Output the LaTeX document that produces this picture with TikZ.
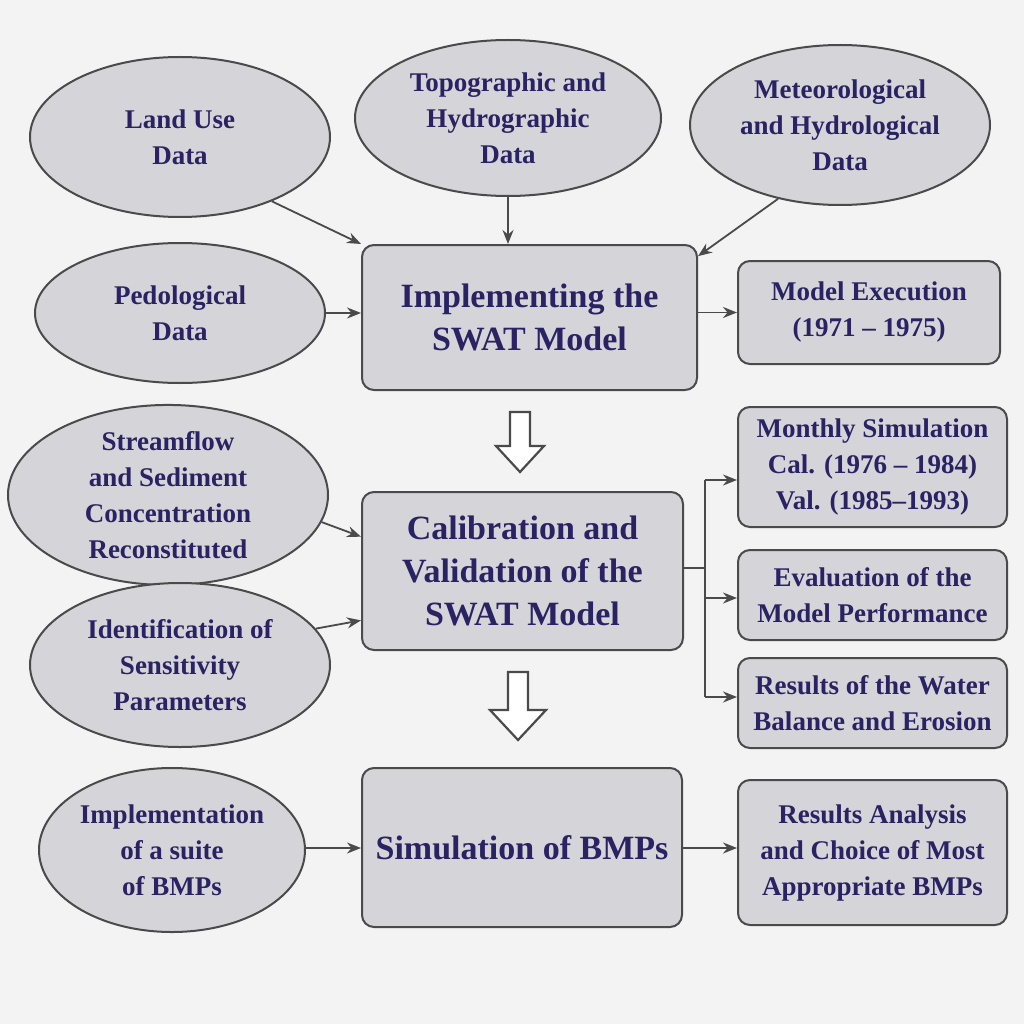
\documentclass[tikz,border=0pt]{standalone}
\usepackage{fontspec}
\setmainfont{Liberation Serif}
\usetikzlibrary{shapes.geometric,arrows.meta}
\definecolor{bg}{HTML}{F3F3F3}
\definecolor{fillc}{HTML}{D5D4D9}
\definecolor{edge}{HTML}{4A4A4A}
\definecolor{txt}{HTML}{2A2262}
\begin{document}
\begin{tikzpicture}[x=1pt,y=-1pt,
  el/.style={ellipse,draw=edge,line width=2pt,fill=fillc,minimum width=#1,align=center,text=txt,font=\bfseries\fontsize{27}{36}\selectfont,inner sep=0pt},
  bx/.style={rectangle,rounded corners=12pt,draw=edge,line width=2pt,fill=fillc,align=center,text=txt,inner sep=0pt},
  big/.style={font=\bfseries\fontsize{34}{43}\selectfont},
  sm/.style={font=\bfseries\fontsize{27}{36}\selectfont},
  ar/.style={-{Stealth[length=14pt,width=11pt]},draw=edge,line width=1.8pt},
  hol/.style={draw=edge,line width=2.2pt,fill=white,line join=miter}]
\fill[bg] (0,0) rectangle (1024,1024);
\useasboundingbox (0,0) rectangle (1024,1024);
% ellipses
\node[el=300pt,minimum height=160pt] (lu) at (180,137) {Land Use\\Data};
\node[el=306pt,minimum height=156pt] (topo) at (508,118) {Topographic and\\Hydrographic\\Data};
\node[el=300pt,minimum height=160pt] (met) at (840,125) {Meteorological\\and Hydrological\\Data};
\node[el=290pt,minimum height=140pt] (ped) at (180,313) {Pedological\\Data};
\node[el=320pt,minimum height=164pt] (str) at (168,495) {Streamflow\\and Sediment\\Concentration\\Reconstituted};
\node[el=300pt,minimum height=164pt] (ide) at (180,665) {Identification of\\Sensitivity\\Parameters};
\node[el=266pt,minimum height=164pt] (imp) at (172,850) {Implementation\\of a suite\\of BMPs};
% boxes
\node[bx,big,minimum width=335pt,minimum height=145pt] (swat) at (529.5,317.5) {Implementing the\\SWAT Model};
\node[bx,sm,minimum width=262pt,minimum height=103pt] (exe) at (869,312.5) {Model Execution\\(1971 -- 1975)};
\node[bx,big,minimum width=321pt,minimum height=158pt] (cal) at (522.5,571) {Calibration and\\Validation of the\\SWAT Model};
\node[bx,sm,minimum width=269pt,minimum height=120pt] (mon) at (872.5,467) {Monthly Simulation\\Cal. (1976 -- 1984)\\Val. (1985--1993)};
\node[bx,sm,minimum width=269pt,minimum height=90pt] (eva) at (872.5,595) {Evaluation of the\\Model Performance};
\node[bx,sm,minimum width=269pt,minimum height=90pt] (res) at (872.5,703) {Results of the Water\\Balance and Erosion};
\node[bx,big,minimum width=320pt,minimum height=159pt] (sim) at (522,847.5) {Simulation of BMPs};
\node[bx,sm,minimum width=269pt,minimum height=145pt] (ana) at (872.5,852.5) {Results Analysis\\and Choice of Most\\Appropriate BMPs};
% connectors
\draw[ar] (lu.-35) -- (swat.north west);
\draw[ar] (topo.south) -- (swat.north -| topo.south);
\draw[ar] (met.-130) -- (swat.20);
\draw[ar] (ped.east) -- (swat.west |- ped.east);
\draw[ar] (swat.east |- exe.west) -- (exe.west);
\draw[ar] (str.-10) -- (cal.168);
\draw[ar] (ide.15) -- (cal.-163);
\coordinate (br) at (705,568);
\draw[draw=edge,line width=1.8pt] (cal.east |- br) -- (br);
\draw[draw=edge,line width=1.8pt] (705,480) -- (705,697);
\draw[ar] (705,480) -- (mon.west |- 0,480);
\draw[ar] (705,598) -- (eva.west |- 0,598);
\draw[ar] (705,697) -- (res.west |- 0,697);
\draw[ar] (imp.east |- 0,848) -- (sim.west |- 0,848);
\draw[ar] (sim.east |- 0,848) -- (ana.west |- 0,848);
% hollow arrows
\draw[hol] (510,412) -- (530,412) -- (530,446) -- (544,446) -- (520,472) -- (496,446) -- (510,446) -- cycle;
\draw[hol] (508,672) -- (528,672) -- (528,710) -- (546,710) -- (518,740) -- (490,710) -- (508,710) -- cycle;
\end{tikzpicture}
\end{document}
